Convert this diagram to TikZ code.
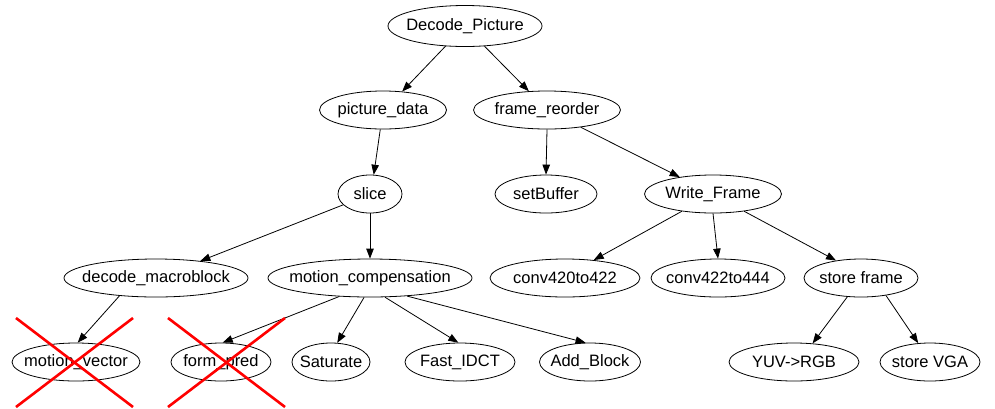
\documentclass[tikz,border=0pt]{standalone}
\usepackage{fontspec}
\setmainfont{Liberation Sans}
\usetikzlibrary{shapes.geometric,arrows.meta}

% label of zero width, so that the ellipse size comes from the minimum sizes only
\newcommand{\fnlabel}[1]{\makebox[0pt]{#1}}

\tikzset{
  fn/.style={ellipse, draw=black, line width=0.8pt, inner sep=0pt,
             minimum height=38pt, font=\fontsize{16.5}{18}\selectfont},
  arr/.style={draw=black, line width=0.8pt,
              -{Triangle[length=10pt,width=7.5pt]}},
  cross/.style={draw=red, line width=2.6pt}
}

\begin{document}
\begin{tikzpicture}[x=1pt,y=-1pt]
  \useasboundingbox (0,0) rectangle (995,408);

  % call tree
  \node[fn, minimum width=154pt, minimum height=41pt] (dp)  at (465,26)  {\fnlabel{Decode\_Picture}};
  \node[fn, minimum width=127pt] (pd)  at (383,110) {\fnlabel{picture\_data}};
  \node[fn, minimum width=147pt] (fr)  at (547,110) {\fnlabel{frame\_reorder}};
  \node[fn, minimum width=64pt]  (sl)  at (370,194) {\fnlabel{slice}};
  \node[fn, minimum width=102pt] (sb)  at (546,194) {\fnlabel{setBuffer}};
  \node[fn, minimum width=137pt] (wf)  at (713,194) {\fnlabel{Write\_Frame}};
  \node[fn, minimum width=184pt] (dm)  at (156,278) {\fnlabel{decode\_macroblock}};
  \node[fn, minimum width=204pt] (mc)  at (370,278) {\fnlabel{motion\_compensation}};
  \node[fn, minimum width=150pt] (c42) at (565,278) {\fnlabel{conv420to422}};
  \node[fn, minimum width=134pt] (c44) at (718,278) {\fnlabel{conv422to444}};
  \node[fn, minimum width=114pt] (sf)  at (861,278) {\fnlabel{store frame}};
  \node[fn, minimum width=128pt] (mv)  at (76,362)  {\fnlabel{motion\_vector}};
  \node[fn, minimum width=100pt] (fp)  at (221,362) {\fnlabel{form\_pred}};
  \node[fn, minimum width=78pt]  (sat) at (331,362) {\fnlabel{Saturate}};
  \node[fn, minimum width=110pt] (fi)  at (460,362) {\fnlabel{Fast\_IDCT}};
  \node[fn, minimum width=101pt] (ab)  at (590,362) {\fnlabel{Add\_Block}};
  \node[fn, minimum width=130pt] (yuv) at (794,362) {\fnlabel{YUV->RGB}};
  \node[fn, minimum width=100pt] (vga) at (930,362) {\fnlabel{store VGA}};

  % calls
  \draw[arr] (dp.-134)  -- (pd.44);
  \draw[arr] (dp.-46)   -- (fr.134);
  \draw[arr] (pd.-98)   -- (sl.79);
  \draw[arr] (fr.south) -- (sb.north);
  \draw[arr] (fr.-27)   -- (wf.153);
  \draw[arr] (sl.-158)  -- (dm.21);
  \draw[arr] (sl.south) -- (mc.north);
  \draw[arr] (wf.-151)  -- (c42.32);
  \draw[arr] (wf.south) -- (c44.north);
  \draw[arr] (wf.-29)   -- (sf.145);
  \draw[arr] (sf.-126)  -- (yuv.45);
  \draw[arr] (sf.-35)   -- (vga.122);
  \draw[arr] (dm.-154)  -- (mv.85);
  \draw[arr] (mc.-149)  -- (fp.85);
  \draw[arr] (mc.-107)  -- (sat.72);
  \draw[arr] (mc.-52)   -- (fi.95);
  \draw[arr] (mc.-26)   -- (ab.103);

  % removed functions
  \draw[cross] (16,318) -- (133,407);
  \draw[cross] (133,318) -- (16,407);
  \draw[cross] (168,318) -- (285,407);
  \draw[cross] (285,318) -- (168,407);
\end{tikzpicture}
\end{document}
